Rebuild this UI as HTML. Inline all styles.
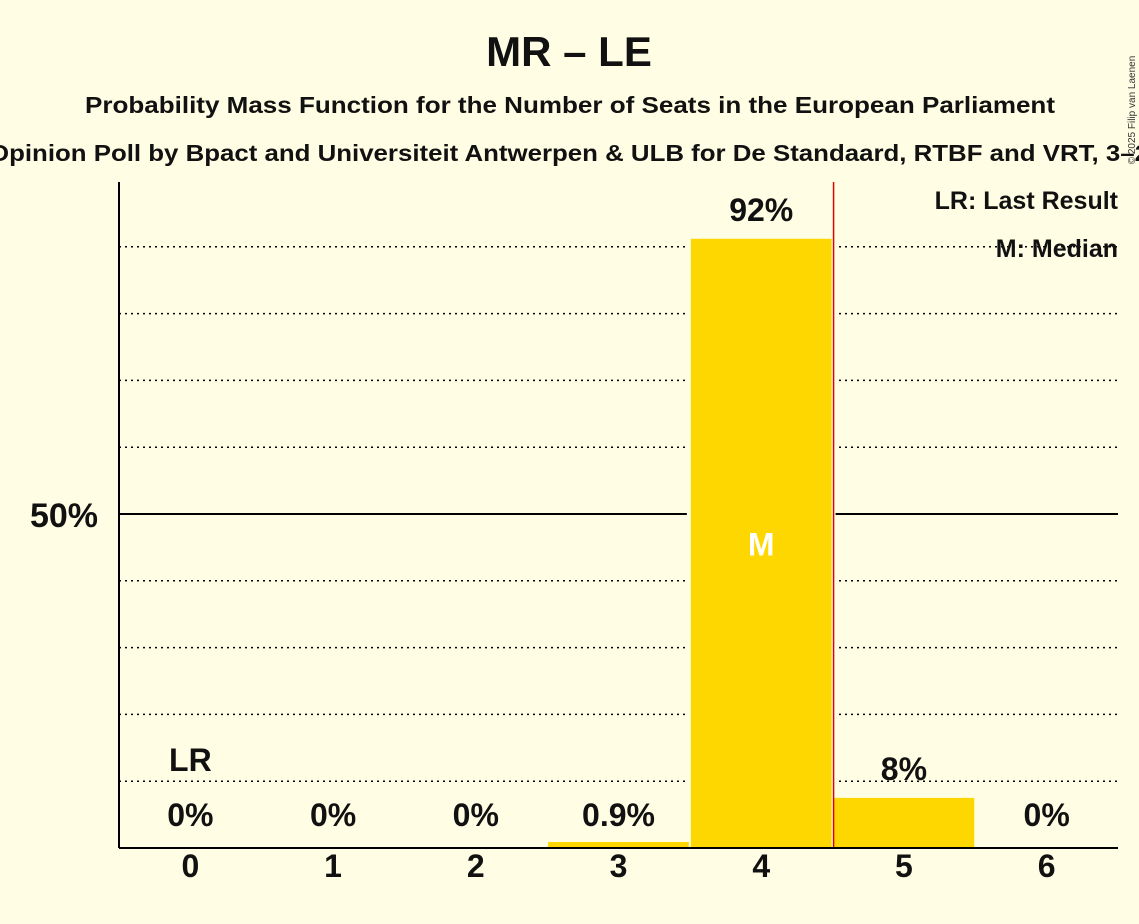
<!DOCTYPE html>
<html><head><meta charset="utf-8"><style>
html,body{margin:0;padding:0;background:#FFFDE3;}
svg{display:block;font-family:"Liberation Sans",sans-serif;}
</style></head><body>
<svg id="chart" width="1139" height="924">
<rect width="1139" height="924" fill="#FFFDE3"/>
<text x="569" y="66" text-anchor="middle" font-size="42" font-weight="bold" fill="#111">MR – LE</text>
<text x="570" y="113" text-anchor="middle" font-size="23" font-weight="bold" fill="#111" textLength="970" lengthAdjust="spacingAndGlyphs">Probability Mass Function for the Number of Seats in the European Parliament</text>
<text x="569" y="161" text-anchor="middle" font-size="23" font-weight="bold" fill="#111" textLength="1160" lengthAdjust="spacingAndGlyphs">Opinion Poll by Bpact and Universiteit Antwerpen &amp; ULB for De Standaard, RTBF and VRT, 3–2</text>
<text x="1135" y="110" font-size="10" fill="#333" transform="rotate(-90 1135 110)" text-anchor="middle">© 2025 Filip van Laenen</text>
<g id="grid"></g>
<g id="bars"></g>
<g id="labels"></g>
<line x1="119" y1="182" x2="119" y2="848" stroke="#000" stroke-width="2"/>
<line x1="119" y1="848" x2="1118" y2="848" stroke="#000" stroke-width="2"/>
<text x="98" y="527" text-anchor="end" font-size="34" font-weight="bold" fill="#111">50%</text>
<text x="1118" y="209" text-anchor="end" font-size="25" font-weight="bold" fill="#111">LR: Last Result</text>
<text x="1118" y="257" text-anchor="end" font-size="25" font-weight="bold" fill="#111">M: Median</text>
</svg>
<script>
const categories=[0,1,2,3,4,5,6];
const values=[0,0,0,0.9,91.2,7.5,0];
const valueLabels=["0%","0%","0%","0.9%","92%","8%","0%"];
const gridTicks=[10,20,30,40,50,60,70,80,90];
const lastResult=0;
const median=4;
const NS="http://www.w3.org/2000/svg";
const x0=119,x1=1118,yBase=848,y50=514;
const bw=(x1-x0)/categories.length;
function xPos(i){return x0+bw*i;}
function yPos(v){return yBase-(yBase-y50)*v/50;}
function mk(t,a,p){const e=document.createElementNS(NS,t);for(const k in a)e.setAttribute(k,a[k]);p.appendChild(e);return e;}
const grid=document.getElementById('grid'),bars=document.getElementById('bars'),labels=document.getElementById('labels');
gridTicks.forEach(t=>{
 const l=mk('line',{x1:x0,x2:x1,y1:yPos(t),y2:yPos(t),stroke:'#000','stroke-width':t===50?2:1.5,'stroke-dasharray':t===50?'none':'2,4'},grid);
 
 
});
categories.forEach((c,i)=>{
 const cx=xPos(i)+bw/2;
 if(values[i]>0){
  const r=mk('rect',{x:xPos(i)+1,y:yPos(values[i]),width:bw-2,height:yBase-yPos(values[i]),fill:'#FFD700'},bars);
  
  
  mk('rect',{x:xPos(i)-3,y:yPos(values[i]),width:bw+6,height:yBase-yPos(values[i]),fill:'#FFFDE3'},grid);
 }
 const vy=yPos(values[i])-18;
 const t=mk('text',{x:cx,y:values[i]<3?826:vy,'text-anchor':'middle','font-size':32,'font-weight':'bold',fill:'#111'},labels);
 t.textContent=valueLabels[i];
 
 
 const xt=mk('text',{x:cx,y:877,'text-anchor':'middle','font-size':32,'font-weight':'bold',fill:'#111'},labels);
 xt.textContent=c;
 
 
 if(c===median){
  const m=mk('text',{x:cx,y:(yPos(values[i])+yBase)/2+12,'text-anchor':'middle','font-size':32,'font-weight':'bold',fill:'#fff'},labels);
  m.textContent='M';
  
  
 }
 if(c===lastResult){
  const lr=mk('text',{x:cx,y:771,'text-anchor':'middle','font-size':32,'font-weight':'bold',fill:'#111'},labels);
  lr.textContent='LR';
  
  
 }
});
const rl=mk('line',{x1:xPos(median+1)+1,x2:xPos(median+1)+1,y1:182,y2:yBase,stroke:'#E00000','stroke-width':1.5},labels);


</script>
</body></html>
